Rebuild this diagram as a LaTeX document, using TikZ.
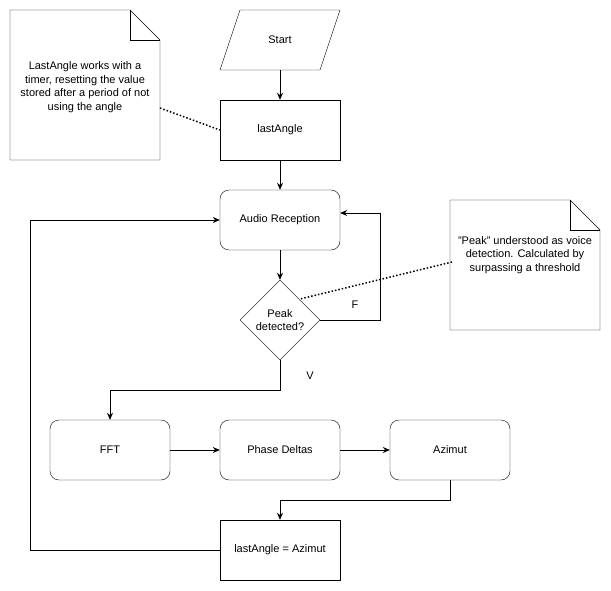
\documentclass[tikz,border=0pt]{standalone}
\usepackage{fontspec}
\setmainfont{Liberation Sans}
\usetikzlibrary{shapes.geometric,arrows.meta}
\begin{document}
\begin{tikzpicture}[x=1pt,y=-1pt,
  every node/.style={font=\fontsize{11}{13.5}\selectfont},
  box/.style={draw,minimum width=120pt,minimum height=60pt,inner sep=0pt},
  rbox/.style={box,rounded corners=9pt},
  arr/.style={-{Stealth[length=7pt,width=6pt]},line width=0.8pt},
  dots/.style={dotted,line width=1.5pt}]
\useasboundingbox (0,0) rectangle (611,591);
\draw (240,10) -- (340,10) -- (320,70) -- (220,70) -- cycle;
\node (start) at (280,40) {Start};
\coordinate (startb) at (280,70);
\node[box] (la) at (280,130) {lastAngle};
\node[rbox] (ar) at (280,220) {Audio Reception};
\node[draw,diamond,minimum width=80pt,minimum height=80pt,inner sep=0pt,aspect=1,align=center] (pk) at (280,320) {};
\node[align=center] at (280,320) {Peak\\detected?};
\node[rbox] (fft) at (110,450) {FFT};
\node[rbox] (pd) at (280,450) {Phase Deltas};
\node[rbox] (az) at (450,450) {Azimut};
\node[box] (la2) at (280,550) {lastAngle = Azimut};
% notes
\draw (10,10) -- (130,10) -- (160,40) -- (160,160) -- (10,160) -- cycle;
\draw (130,10) -- (130,40) -- (160,40);
\node[align=center] (n1) at (85,87) {LastAngle works with a\\timer, resetting the value\\stored after a period of not\\using the angle};
\draw (450,200) -- (570,200) -- (600,230) -- (600,330) -- (450,330) -- cycle;
\draw (570,200) -- (570,230) -- (600,230);
\node[align=center] (n2) at (525,255) {"Peak" understood as voice\\detection. Calculated by\\surpassing a threshold};
\coordinate (n1p) at (160,108);
\coordinate (n2p) at (452,262);
\draw[dots] (n1p) -- (la.west);
\draw[dots] (n2p) -- (300,299);
% connectors
\draw[arr] (startb) -- (la.north);
\draw[arr] (la.south) -- (ar.north);
\draw[arr] (ar.south) -- (pk.north);
\draw[arr] (pk.east) -- (380,320) -- (380,213) -- (ar.east |- 0,213);
\node at (355,305) {F};
\draw[arr] (pk.south) -- (280,390) -- (110,390) -- (fft.north);
\node at (310,376) {V};
\draw[arr] (fft) -- (pd);
\draw[arr] (pd) -- (az);
\draw[arr] (az.south) -- (450,500) -- (280,500) -- (la2.north);
\draw[arr] (la2.west) -- (30,550) -- (30,220) -- (ar.west);
\end{tikzpicture}
\end{document}
